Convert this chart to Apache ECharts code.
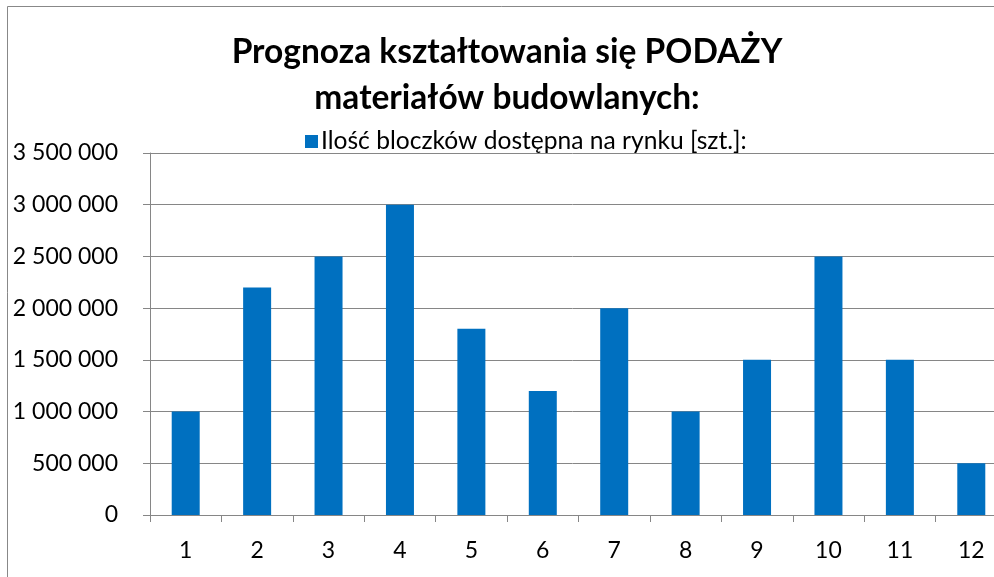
<!DOCTYPE html>
<html>
<head>
<meta charset="utf-8">
<script src="https://cdn.jsdelivr.net/npm/echarts@6/dist/echarts.min.js"></script>
<style>html,body{margin:0;padding:0;background:#fff}#c{width:994px;height:577px}</style>
</head>
<body>
<div id="c"></div>
<script>
var categories = ['1','2','3','4','5','6','7','8','9','10','11','12'];
var seriesName = 'Ilość bloczków dostępna na rynku [szt.]:';
var values = [1000000, 2200000, 2500000, 3000000, 1800000, 1200000, 2000000, 1000000, 1500000, 2500000, 1500000, 500000];
var titleText = 'Prognoza kształtowania się PODAŻY\nmateriałów budowlanych:';

var FONT = 'Lato';
var chart = echarts.init(document.getElementById('c'), null, {renderer: 'canvas'});
chart.setOption({
  backgroundColor: '#fff',
  animation: false,
  title: {
    text: titleText,
    left: 502, top: 24, textAlign: 'center',
    textStyle: {fontFamily: FONT, fontWeight: 'bold', fontSize: 33.5, lineHeight: 46, color: '#000'}
  },
  legend: {
    data: [seriesName],
    left: 300, top: 124,
    itemWidth: 13, itemHeight: 13, itemGap: 5,
    icon: 'rect',
    textStyle: {fontFamily: FONT, fontSize: 24.6, color: '#000', padding: [0,0,0,-2]}
  },
  graphic: [{
    type: 'rect', shape: {x: 7.5, y: 6.5, width: 1100, height: 700},
    style: {fill: 'none', stroke: '#888', lineWidth: 1}, silent: true, z: -1
  }],
  grid: {left: 150, top: 153, bottom: 62, width: 857, containLabel: false, outerBoundsMode: 'none'},
  xAxis: {
    type: 'category', data: categories,
    axisLine: {lineStyle: {color: '#868686', width: 1}},
    axisTick: {show: true, length: 7, lineStyle: {color: '#868686'}},
    axisLabel: {fontFamily: FONT, fontSize: 23, color: '#000', margin: 24}
  },
  yAxis: {
    type: 'value', min: 0, max: 3500000, interval: 500000,
    axisLine: {show: true, lineStyle: {color: '#868686', width: 1}},
    axisTick: {show: true, length: 7, lineStyle: {color: '#868686'}},
    splitLine: {lineStyle: {color: '#868686', width: 1}},
    axisLabel: {
      fontFamily: FONT, fontSize: 23, color: '#000', margin: 32,
      formatter: function (v) { return String(v).replace(/\B(?=(\d{3})+(?!\d))/g, ' '); }
    }
  },
  series: [{
    name: seriesName, type: 'bar', data: values, barWidth: 28,
    itemStyle: {color: '#0070C0'}
  }]
});
</script>
</body>
</html>
